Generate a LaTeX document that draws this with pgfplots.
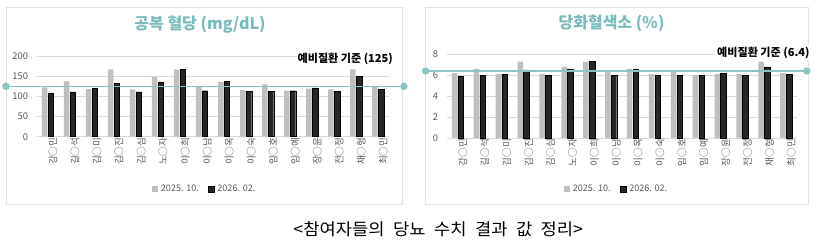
\documentclass[border=0pt]{standalone}
\usepackage{fontspec}
\setmainfont{Noto Sans CJK KR}
\usepackage{pgfplots}
\usepackage{pgfplotstable}
\pgfplotsset{compat=1.18}

\definecolor{barGray}{RGB}{191,191,191}
\definecolor{barBlack}{RGB}{38,38,38}
\definecolor{titleTeal}{RGB}{122,188,188}
\definecolor{refLine}{RGB}{140,196,196}
\definecolor{tickGray}{RGB}{89,89,89}
\definecolor{gridGray}{RGB}{217,217,217}
\definecolor{boxGray}{RGB}{225,225,225}

\pgfplotstableread{
x a b
0 122 107
1 137 111
2 118 120
3 167 132
4 117 111
5 148 136
6 167 167
7 124 114
8 136 138
9 116 112
10 130 112
11 114 114
12 119 121
13 117 112
14 167 149
15 124 117
}\tabA

\pgfplotstableread{
x a b
0 6.2 5.9
1 6.6 6.0
2 6.1 6.1
3 7.3 6.5
4 6.1 6.0
5 6.8 6.6
6 7.3 7.3
7 6.3 6.0
8 6.6 6.6
9 6.1 6.0
10 6.4 6.0
11 6.0 6.0
12 6.1 6.2
13 6.1 6.0
14 7.3 6.8
15 6.2 6.1
}\tabB

\pgfplotsset{
  mychart/.style={
    scale only axis,
    ybar,
    bar width=0.25,
    xmin=-0.5, xmax=15.5, ymin=0,
    enlargelimits=false,
    clip=false,
    axis line style={draw=none},
    major tick length=0pt,
    ymajorgrids,
    grid style={gridGray, line width=0.6pt},
    xtick={0,...,15},
    xticklabels={강○민,길○석,김○미,김○진,김○심,노○자,이○희,이○남,이○옥,이○숙,임○호,임○예,장○윤,전○정,채○형,최○민},
    xticklabel style={rotate=90, anchor=east, font=\fontsize{7.2}{8}\selectfont, text=tickGray, yshift=-4pt, inner sep=0.5pt},
    yticklabel style={font=\fontsize{7}{8}\selectfont, text=tickGray, xshift=-3pt},
    /pgf/number format/assume math mode=true,
    legend columns=2,
    legend style={draw=none, fill=none, font=\fontsize{6.8}{8}\selectfont, text=tickGray,
      anchor=center, /tikz/every even column/.append style={column sep=5pt}},
    legend image code/.code={\path[#1] (0pt,-2.2pt) rectangle (4.6pt,2.4pt);},
    title style={anchor=center, font=\bfseries\fontsize{12}{14}\selectfont, text=titleTeal},
  }
}

\begin{document}
\begin{tikzpicture}
\path[use as bounding box] (0pt,0pt) rectangle (613.5pt,183.75pt);
% panel frames
\draw[boxGray, line width=0.6pt] (4.5pt,30.75pt) rectangle (301.5pt,178.5pt);
\draw[boxGray, line width=0.6pt] (319.3pt,30.75pt) rectangle (606pt,178.5pt);

% ---------- left chart ----------
\begin{axis}[mychart,
  at={(27.53pt,81.23pt)}, anchor=south west,
  width=264.2pt, height=60.5pt,
  ymax=200, ytick={0,50,100,150,200},
  title={공복 혈당 (mg/dL)},
  title style={at={(0.4635,1.285)}},
  legend style={at={(0.478,-0.648)}},
]
\addplot[fill=barGray, draw=none, bar shift=-0.14] table[x=x,y=a] {\tabA};
\addlegendentry{2025. 10.}
\addplot[fill=barBlack, draw=black, line width=0.3pt, bar shift=0.14] table[x=x,y=b] {\tabA};
\addlegendentry{2026. 02.}
\addplot[sharp plot, refLine, line width=1.1pt, mark=*, mark size=2.2pt,
  mark options={fill=refLine, draw=refLine}, forget plot] coordinates {(-1.90,125) (16.18,125)};
\node[anchor=east, fill=white, inner sep=1.5pt, font=\bfseries\fontsize{8.3}{10}\selectfont, text=black]
  at (axis cs:15.78,191.8) {예비질환 기준 (125)};
\end{axis}

% ---------- right chart ----------
\begin{axis}[mychart,
  at={(335.03pt,80.25pt)}, anchor=south west,
  width=262.7pt, height=62.8pt,
  ymax=8, ytick={0,2,4,6,8},
  title={당화혈색소 (\%)},
  title style={at={(0.4705,1.27)}},
  legend style={at={(0.486,-0.61)}},
]
\addplot[fill=barGray, draw=none, bar shift=-0.14] table[x=x,y=a] {\tabB};
\addlegendentry{2025. 10.}
\addplot[fill=barBlack, draw=black, line width=0.3pt, bar shift=0.14] table[x=x,y=b] {\tabB};
\addlegendentry{2026. 02.}
\addplot[sharp plot, refLine, line width=1.1pt, mark=*, mark size=2.2pt,
  mark options={fill=refLine, draw=refLine}, forget plot] coordinates {(-1.46,6.4) (15.95,6.4)};
\node[anchor=east, fill=white, inner sep=1.5pt, font=\bfseries\fontsize{8.3}{10}\selectfont, text=black]
  at (axis cs:16.18,8.12) {예비질환 기준 (6.4)};
\end{axis}

% caption
\node[font=\fontsize{12.5}{14}\selectfont, text=black] at (328.7pt,11.5pt)
  {\scalebox{1.06}[1]{<참여자들의\hspace{6pt}당뇨\hspace{6pt}수치\hspace{6pt}결과\hspace{6pt}값\hspace{6pt}정리>}};
\end{tikzpicture}
\end{document}
